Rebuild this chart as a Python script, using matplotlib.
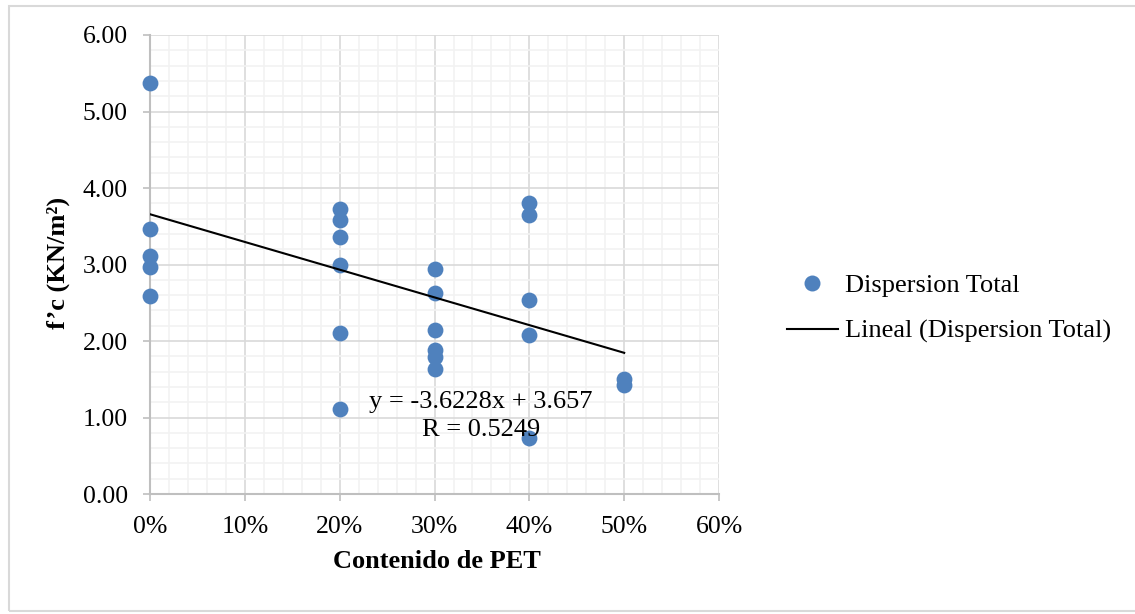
import numpy as np
import matplotlib.pyplot as plt
from matplotlib.ticker import MultipleLocator, FuncFormatter
from matplotlib.lines import Line2D
from matplotlib.patches import Rectangle

# PET content (fraction) and compressive strength f'c per specimen
pet_0 = [0.0, 0.0, 0.0, 0.0, 0.0]
fc_0 = [5.37, 3.47, 3.11, 2.97, 2.59]
pet_20 = [0.2, 0.2, 0.2, 0.2, 0.2, 0.2]
fc_20 = [3.72, 3.58, 3.36, 3.00, 2.10, 1.11]
pet_30 = [0.3, 0.3, 0.3, 0.3, 0.3, 0.3]
fc_30 = [2.94, 2.63, 2.15, 1.88, 1.79, 1.63]
pet_40 = [0.4, 0.4, 0.4, 0.4, 0.4]
fc_40 = [3.80, 3.65, 2.54, 2.08, 0.73]
pet_50 = [0.5, 0.5]
fc_50 = [1.50, 1.42]

# linear trendline reported with the series
slope = -3.6228
intercept = 3.657
r_value = 0.5249
trend_x = [0.0, 0.5]

x_ticks = [0.0, 0.1, 0.2, 0.3, 0.4, 0.5, 0.6]
y_ticks = [0.0, 1.0, 2.0, 3.0, 4.0, 5.0, 6.0]

pet = np.array(pet_0 + pet_20 + pet_30 + pet_40 + pet_50)
fc = np.array(fc_0 + fc_20 + fc_30 + fc_40 + fc_50)

plt.rcParams['font.family'] = ['Liberation Serif', 'DejaVu Serif']
plt.rcParams['mathtext.fontset'] = 'stix'

BLUE = '#4F81BD'
AXIS_GRAY = '#BFBFBF'

fig = plt.figure(figsize=(11.35, 6.14), dpi=100)
fig.patches.append(Rectangle((9 / 1135, 1 - 611 / 614), 1.2, 605 / 614,
                             transform=fig.transFigure, fill=False,
                             edgecolor='#D9D9D9', linewidth=1.5))

ax = fig.add_axes([0.1322, 0.1954, 0.5013, 0.7476])

ax.scatter(pet, fc, s=130, color=BLUE, zorder=3, clip_on=False,
           linewidths=0, label='Dispersion Total')

tx = np.array(trend_x)
ax.plot(tx, slope * tx + intercept, color='black', linewidth=1.5, zorder=4)

ax.set_xlim(0, 0.6)
ax.set_ylim(0, 6)
ax.set_xticks(x_ticks)
ax.set_yticks(y_ticks)
ax.xaxis.set_minor_locator(MultipleLocator(0.02))
ax.yaxis.set_minor_locator(MultipleLocator(0.2))
ax.xaxis.set_major_formatter(FuncFormatter(lambda v, p: f'{v * 100:.0f}%'))
ax.yaxis.set_major_formatter(FuncFormatter(lambda v, p: f'{v:.2f}'))

ax.grid(which='major', color='#D9D9D9', linewidth=1.2, zorder=0)
ax.grid(which='minor', color='#F2F2F2', linewidth=1.2, zorder=0)
ax.set_axisbelow(True)

for side in ['top', 'right']:
    ax.spines[side].set_visible(False)
for side in ['left', 'bottom']:
    ax.spines[side].set_color(AXIS_GRAY)
    ax.spines[side].set_linewidth(1.5)

ax.tick_params(which='major', direction='out', length=5, width=1.2,
               color=AXIS_GRAY, labelsize=18.5)
ax.tick_params(axis='y', which='major', pad=11)
ax.tick_params(axis='x', which='major', pad=11)
ax.tick_params(which='minor', length=0)

ax.set_xlabel('Contenido de PET', fontsize=19, fontweight='bold', va='center')
ax.set_ylabel('f’c (KN/m²)', fontsize=19, fontweight='bold', va='center')
ax.xaxis.set_label_coords(0.504, -0.148)
ax.yaxis.set_label_coords(-0.162, 0.503)

ax.text(0.349, 1.02, f'y = {slope}x + {intercept}\nR = {r_value}',
        fontsize=19, ha='center', va='center', multialignment='center',
        linespacing=1.3, zorder=5)

handles = [
    Line2D([], [], linestyle='none', marker='o', markersize=11.5,
           markerfacecolor=BLUE, markeredgewidth=0),
    Line2D([], [], color='black', linewidth=1.5),
]
fig.legend(handles, ['Dispersion Total', 'Lineal (Dispersion Total)'],
           loc='center left', bbox_to_anchor=(0.693, 0.4976), frameon=False,
           fontsize=19, handlelength=1.95, handletextpad=0.25,
           labelspacing=0.85, borderpad=0, borderaxespad=0)

fig.savefig('out.png', dpi=100)
